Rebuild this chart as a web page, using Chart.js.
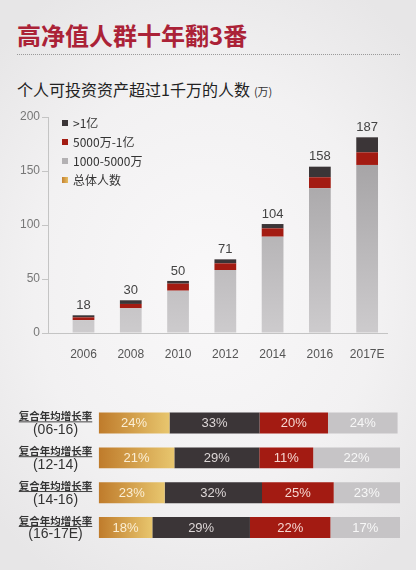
<!DOCTYPE html>
<html>
<head>
<meta charset="utf-8">
<script src="https://cdn.jsdelivr.net/npm/chart.js@4"></script>
<style>
  html, body { margin: 0; padding: 0; }
  body {
    width: 416px; height: 570px; overflow: hidden; position: relative;
    background: radial-gradient(ellipse 70% 60% at 50% 50%, #f9f8f9 0%, #f2f1f2 60%, #e7e6e7 100%);
    font-family: "Liberation Sans", "Noto Sans CJK SC", sans-serif;
  }
  #title {
    position: absolute; left: 17px; top: 20px; margin: 0;
    font: bold 24px/30px "Noto Sans CJK SC", sans-serif; color: #ab2237; white-space: nowrap;
  }
  #rule {
    position: absolute; left: 17px; top: 54px; width: 383px; height: 0;
    border-top: 1px dotted #9a9a9a;
  }
  #subtitle {
    position: absolute; left: 17px; top: 78px; margin: 0;
    font: 16px/22px "Noto Sans CJK SC", sans-serif; color: #222; white-space: nowrap;
  }
  #subtitle span { font-size: 11px; margin-left: 4px; color: #333; }
  canvas { position: absolute; left: 0; }
  #c1 { top: 100px; }
  #c2 { top: 395px; }
</style>
</head>
<body>
<h1 id="title">高净值人群十年翻3番</h1>
<div id="rule"></div>
<div id="subtitle">个人可投资资产超过1千万的人数<span>(万)</span></div>
<canvas id="c1" width="416" height="260"></canvas>
<canvas id="c2" width="416" height="160"></canvas>
<script>
// ---------- Chart 1 data ----------
const years = ['2006', '2008', '2010', '2012', '2014', '2016', '2017E'];
const tier1000to5000 = [12.0, 22.9, 39.2, 58.3, 89.2, 134.0, 155.6];
const tier5000to1yi  = [2.5, 4.0, 6.5, 6.2, 7.7, 10.2, 11.7];
const tierOver1yi    = [1.9, 3.4, 2.5, 3.7, 4.0, 9.8, 13.9];
const totalPeople    = [18, 30, 50, 71, 104, 158, 187];
const yTicks = [0, 50, 100, 150, 200];

// ---------- Chart 2 data ----------
const rateRowTitle = '复合年均增长率';
const ratePeriods = ['(06-16)', '(12-14)', '(14-16)', '(16-17E)'];
// segment lengths (share of row width)
const shareTotal   = [23.5, 25.1, 21.9, 17.8];
const shareOver1yi = [29.9, 28.2, 32.3, 32.4];
const shareMid     = [22.7, 17.9, 23.8, 26.7];
const shareBase    = [23.1, 28.8, 22.0, 23.1];
// printed growth rates (%)
const rateTotal   = [24, 21, 23, 18];
const rateOver1yi = [33, 29, 32, 29];
const rateMid     = [20, 11, 25, 22];
const rateBase    = [24, 22, 23, 17];

const C_DARK = '#3b3537';
const C_RED = '#a31b12';
const C_GRAY = '#b3b1b3';
const LATIN = '"Liberation Sans", "Noto Sans CJK SC", sans-serif';
const CJK = '"Noto Sans CJK SC", "Liberation Sans", sans-serif';

function grayGradient(ctx) {
  const ch = ctx.chart;
  if (!ch.chartArea) return C_GRAY;
  const g = ch.ctx.createLinearGradient(0, ch.chartArea.bottom, 0, ch.chartArea.top);
  g.addColorStop(0, '#cdcbcd');
  g.addColorStop(1, '#9c9a9c');
  return g;
}

const totalsPlugin = {
  id: 'totals',
  afterDatasetsDraw(chart) {
    const ctx = chart.ctx;
    const top = chart.getDatasetMeta(chart.data.datasets.length - 1);
    ctx.save();
    ctx.font = '13px ' + LATIN;
    ctx.fillStyle = '#444';
    ctx.textAlign = 'center';
    ctx.textBaseline = 'middle';
    top.data.forEach((el, i) => {
      ctx.fillText(String(totalPeople[i]), el.x, el.y - 10);
    });
    ctx.restore();
  }
};

const legendPlugin = {
  id: 'customLegend',
  afterDraw(chart) {
    const ctx = chart.ctx;
    const a = chart.chartArea;
    const ds = chart.data.datasets;
    const items = [
      { label: ds[2].label, color: C_DARK },
      { label: ds[1].label, color: C_RED },
      { label: ds[0].label, color: C_GRAY },
      { label: '总体人数', color: null }
    ];
    ctx.save();
    ctx.font = '12px ' + CJK;
    ctx.textBaseline = 'middle';
    items.forEach((it, k) => {
      const y = a.top + 6 + k * 19;
      const x = a.left + 14;
      if (it.color) {
        ctx.fillStyle = it.color;
      } else {
        const g = ctx.createLinearGradient(x, 0, x + 6, 0);
        g.addColorStop(0, '#c58230');
        g.addColorStop(1, '#e5bc62');
        ctx.fillStyle = g;
      }
      ctx.fillRect(x, y - 3, 6, 6);
      ctx.fillStyle = '#333';
      ctx.fillText(it.label, x + 11, y);
    });
    ctx.restore();
  }
};

const toXY = arr => arr.map((v, i) => ({ x: i, y: v }));

new Chart(document.getElementById('c1'), {
  type: 'bar',
  data: {
    datasets: [
      { label: '1000-5000万', data: toXY(tier1000to5000), backgroundColor: grayGradient, stack: 's' },
      { label: '5000万-1亿', data: toXY(tier5000to1yi), backgroundColor: C_RED, stack: 's' },
      { label: '>1亿', data: toXY(tierOver1yi), backgroundColor: C_DARK, stack: 's' }
    ]
  },
  options: {
    responsive: false,
    animation: false,
    layout: { padding: { top: 17, right: 29, left: 0, bottom: 0 } },
    datasets: { bar: { barPercentage: 0.46, categoryPercentage: 1, borderWidth: 0 } },
    plugins: { legend: { display: false }, tooltip: { enabled: false } },
    scales: {
      x: {
        type: 'linear',
        min: -0.751,
        max: 6.42,
        offset: false,
        afterBuildTicks: s => { s.ticks = years.map((_, i) => ({ value: i })); },
        afterFit: s => { s.height = 27; },
        grid: { display: false },
        border: { display: true, color: '#c4c4c4', width: 1 },
        ticks: {
          callback: v => years[v],
          color: '#555',
          font: { size: 12, family: LATIN },
          padding: 6,
          maxRotation: 0,
          autoSkip: false
        }
      },
      y: {
        stacked: true,
        min: 0,
        max: 200,
        afterBuildTicks: s => { s.ticks = yTicks.map(v => ({ value: v })); },
        afterFit: s => { s.width = 48; },
        grid: { display: true, drawOnChartArea: false, drawTicks: true, tickLength: 6, color: '#c4c4c4' },
        border: { display: true, color: '#c4c4c4', width: 1 },
        ticks: { color: '#777', font: { size: 12, family: LATIN }, padding: 2 }
      }
    }
  },
  plugins: [totalsPlugin, legendPlugin]
});

// ---------- Chart 2 ----------
function goldGradient(ctx) {
  const ch = ctx.chart;
  if (!ch.chartArea) return '#d49a48';
  const xs = ch.scales.x;
  const x0 = xs.getPixelForValue(0);
  const x1 = xs.getPixelForValue(shareTotal[ctx.dataIndex] || 20);
  const g = ch.ctx.createLinearGradient(x0, 0, x1, 0);
  g.addColorStop(0, '#bf7b2b');
  g.addColorStop(1, '#e8c66e');
  return g;
}

const rateLabels = [rateTotal, rateOver1yi, rateMid, rateBase];
const rateColors = ['#fbeed4', '#ddd7d7', '#f6d6d0', '#f7f7f7'];

const rateTextPlugin = {
  id: 'rateText',
  afterDatasetsDraw(chart) {
    const ctx = chart.ctx;
    ctx.save();
    ctx.font = '13px ' + LATIN;
    ctx.textAlign = 'center';
    ctx.textBaseline = 'middle';
    chart.data.datasets.forEach((d, di) => {
      chart.getDatasetMeta(di).data.forEach((el, i) => {
        ctx.fillStyle = rateColors[di];
        ctx.fillText(rateLabels[di][i] + '%', (el.x + el.base) / 2, el.y + 0.5);
      });
    });
    ctx.restore();
  }
};

const rowLabelPlugin = {
  id: 'rowLabels',
  afterDraw(chart) {
    const ctx = chart.ctx;
    const ys = chart.scales.y;
    const cx = 55.5;
    ctx.save();
    ctx.textAlign = 'center';
    ctx.textBaseline = 'middle';
    ratePeriods.forEach((p, i) => {
      const y = ys.getPixelForValue(i);
      ctx.fillStyle = '#333';
      ctx.font = 'bold 10.5px ' + CJK;
      ctx.fillText(rateRowTitle, cx, y - 7);
      const w = ctx.measureText(rateRowTitle).width;
      ctx.fillRect(cx - w / 2, y - 1.6, w, 0.9);
      ctx.font = '14px ' + LATIN;
      ctx.fillText(p, cx, y + 7);
    });
    ctx.restore();
  }
};

new Chart(document.getElementById('c2'), {
  type: 'bar',
  data: {
    labels: ratePeriods,
    datasets: [
      { label: '总体人数', data: shareTotal, backgroundColor: goldGradient },
      { label: '>1亿', data: shareOver1yi, backgroundColor: C_DARK },
      { label: '5000万-1亿', data: shareMid, backgroundColor: C_RED },
      { label: '1000-5000万', data: shareBase, backgroundColor: '#c6c4c6' }
    ]
  },
  options: {
    indexAxis: 'y',
    responsive: false,
    animation: false,
    layout: { padding: { top: 10.6, bottom: 10, left: 0, right: 16 } },
    datasets: { bar: { barPercentage: 0.6, categoryPercentage: 1, borderWidth: 0 } },
    plugins: { legend: { display: false }, tooltip: { enabled: false } },
    scales: {
      x: { stacked: true, min: 0, max: 100, display: false },
      y: {
        stacked: true,
        afterFit: s => { s.width = 98.7; },
        grid: { display: false },
        border: { display: false },
        ticks: { display: false }
      }
    }
  },
  plugins: [rateTextPlugin, rowLabelPlugin]
});
</script>
</body>
</html>
